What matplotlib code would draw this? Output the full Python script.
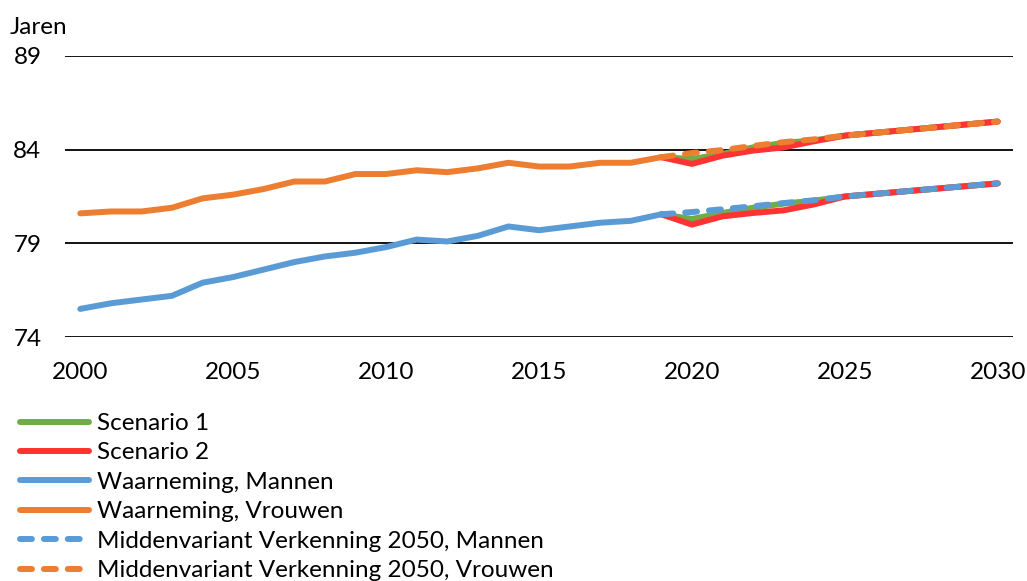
import matplotlib
matplotlib.use("Agg")
import matplotlib.pyplot as plt

plt.rcParams['font.family'] = ['Lato', 'DejaVu Sans']

years_obs = list(range(2000, 2020))
obs_mannen = [75.5, 75.8, 76.0, 76.2, 76.9, 77.2, 77.6, 78.0, 78.3, 78.5,
              78.8, 79.2, 79.1, 79.4, 79.9, 79.7, 79.9, 80.1, 80.2, 80.55]
obs_vrouwen = [80.6, 80.7, 80.7, 80.9, 81.4, 81.6, 81.9, 82.3, 82.3, 82.7,
               82.7, 82.9, 82.8, 83.0, 83.3, 83.1, 83.1, 83.3, 83.3, 83.6]

years_proj = list(range(2019, 2031))
sc1_mannen = [80.55, 80.3, 80.62, 80.9, 81.12, 81.28, 81.5, 81.64, 81.78, 81.92, 82.06, 82.2]
sc2_mannen = [80.55, 80.0, 80.44, 80.62, 80.76, 81.08, 81.5, 81.64, 81.78, 81.92, 82.06, 82.2]
mid_mannen = [80.55, 80.67, 80.82, 80.98, 81.15, 81.3, 81.5, 81.64, 81.78, 81.92, 82.06, 82.2]
sc1_vrouwen = [83.6, 83.5, 83.77, 84.12, 84.36, 84.5, 84.75, 84.9, 85.05, 85.2, 85.35, 85.5]
sc2_vrouwen = [83.6, 83.24, 83.68, 83.95, 84.12, 84.45, 84.75, 84.9, 85.05, 85.2, 85.35, 85.5]
mid_vrouwen = [83.6, 83.82, 83.98, 84.2, 84.4, 84.55, 84.75, 84.9, 85.05, 85.2, 85.35, 85.5]

xticks = [2000, 2005, 2010, 2015, 2020, 2025, 2030]
yticks = [74, 79, 84, 89]

GREEN = '#70AD47'
RED = '#FF3333'
BLUE = '#5B9BD5'
ORANGE = '#ED7D31'

FS = 17.5

fig = plt.figure(figsize=(10.27, 5.81), dpi=100)
ax = fig.add_axes([65/1027, 1-337/581, (1013-65)/1027, (337-56)/581])

lw = 4.3
for y in yticks:
    ax.axhline(y, color='black', lw=1.3, zorder=1)

l1, = ax.plot(years_proj, sc1_mannen, color=GREEN, lw=lw, solid_capstyle='round', zorder=3, label='Scenario 1')
ax.plot(years_proj, sc1_vrouwen, color=GREEN, lw=lw, solid_capstyle='round', zorder=3)
l2, = ax.plot(years_proj, sc2_mannen, color=RED, lw=lw, solid_capstyle='round', zorder=4, label='Scenario 2')
ax.plot(years_proj, sc2_vrouwen, color=RED, lw=lw, solid_capstyle='round', zorder=4)
l3, = ax.plot(years_obs, obs_mannen, color=BLUE, lw=lw, solid_capstyle='round', zorder=5, label='Waarneming, Mannen')
l4, = ax.plot(years_obs, obs_vrouwen, color=ORANGE, lw=lw, solid_capstyle='round', zorder=5, label='Waarneming, Vrouwen')
l5, = ax.plot(years_proj, mid_mannen, color=BLUE, lw=lw, dashes=(2.0, 2.0), dash_capstyle='round', zorder=6,
              label='Middenvariant Verkenning 2050, Mannen')
l6, = ax.plot(years_proj, mid_vrouwen, color=ORANGE, lw=lw, dashes=(2.0, 2.0), dash_capstyle='round', zorder=6,
              label='Middenvariant Verkenning 2050, Vrouwen')

ax.set_xlim(1999.5, 2030.5)
ax.set_ylim(74, 89)
ax.set_xticks(xticks)
ax.set_yticks(yticks)
ax.tick_params(axis='both', length=0, labelsize=FS, colors='black')
ax.tick_params(axis='x', pad=18)
ax.tick_params(axis='y', pad=17)
for s in ax.spines.values():
    s.set_visible(False)

fig.text(10/1027, 1-27/581, 'Jaren', fontsize=FS, va='center', ha='left')

leg = fig.legend(handles=[l1, l2, l3, l4, l5, l6], loc='upper left',
                 bbox_to_anchor=(20/1027, 1-413/581), frameon=False, fontsize=FS,
                 borderpad=0, borderaxespad=0, handlelength=2.85, handletextpad=0.3,
                 labelspacing=0.345)

fig.savefig('out.png', dpi=100)
